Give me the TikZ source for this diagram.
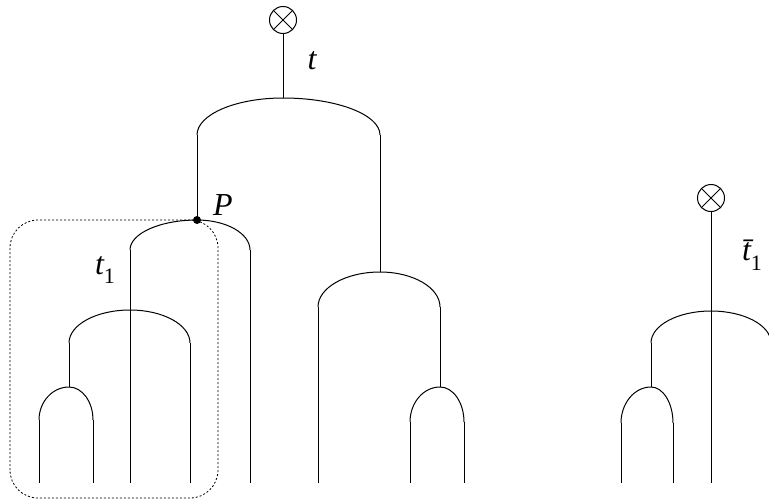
\documentclass[tikz,border=0pt]{standalone}
\usepackage{fontspec}
\setmainfont{Liberation Serif}
\tikzset{
  xcirc/.style={circle,draw,inner sep=0pt,minimum size=13.5pt,
    path picture={\draw (path picture bounding box.north west) -- (path picture bounding box.south east)
      (path picture bounding box.north east) -- (path picture bounding box.south west);}},
  pdot/.style={circle,fill,inner sep=0pt,minimum size=4pt},
  tlabel/.style={inner sep=0pt,font=\fontsize{16}{19}\selectfont\itshape},
  tbox/.style={dash pattern=on 1pt off 1pt,line width=0.4pt,rounded corners=14pt}
}
\begin{document}
\begin{tikzpicture}[x=0.5pt,y=0.5pt,line width=0.5pt]
  \useasboundingbox (0,0) rectangle (769,500);
  \foreach \x/\n in {39/l1,93/l2,130/l3,190/l4,250/l5,318/l6,410/l7,464/l8,621/l9,673/l10,711/l11}
    \coordinate (\n) at (\x,17);
  \node[xcirc] (top) at (283,480) {};
  \coordinate (a) at (283,402);
  \coordinate (al) at (197,365);
  \coordinate (ar) at (380,365);
  \coordinate (bl) at (130,250);
  \coordinate (br) at (250,250);
  \coordinate (c) at (130,190);
  \coordinate (cl) at (69,157);
  \coordinate (cr) at (190,157);
  \coordinate (d) at (69,113);
  \coordinate (dl) at (39,80);
  \coordinate (dr) at (93,80);
  \coordinate (e) at (380,228);
  \coordinate (el) at (318,193);
  \coordinate (er) at (440,193);
  \coordinate (f) at (440,113);
  \coordinate (fl) at (410,78);
  \coordinate (fr) at (464,78);
  \node[xcirc] (topbar) at (711,302) {};
  \coordinate (g) at (711,189);
  \coordinate (gl) at (651,157);
  \coordinate (h) at (651,113);
  \coordinate (hl) at (621,77);
  \coordinate (hr) at (673,77);
  \draw[tbox] (10,2) rectangle (218,280);
  \draw (top) -- (a);
  \draw (al) arc[start angle=180,end angle=90,x radius=86,y radius=37] arc[start angle=90,end angle=0,x radius=97,y radius=37];
  \draw (al) -- (197,280);
  \draw (ar) -- (e);
  \draw (bl) arc[start angle=180,end angle=90,x radius=67,y radius=30] arc[start angle=90,end angle=0,x radius=53,y radius=30];
  \node[pdot] (P) at (197,280) {};
  \draw (bl) -- (l3);
  \draw (br) -- (l5);
  \draw (cl) arc[start angle=180,end angle=90,x radius=61,y radius=33] arc[start angle=90,end angle=0,x radius=60,y radius=33];
  \draw (cl) -- (d);
  \draw (cr) -- (l4);
  \draw (dl) arc[start angle=180,end angle=90,x radius=30,y radius=33] arc[start angle=90,end angle=0,x radius=24,y radius=33];
  \draw (dl) -- (l1);
  \draw (dr) -- (l2);
  \draw (el) arc[start angle=180,end angle=90,x radius=62,y radius=35] arc[start angle=90,end angle=0,x radius=60,y radius=35];
  \draw (el) -- (l6);
  \draw (er) -- (f);
  \draw (fl) arc[start angle=180,end angle=90,x radius=30,y radius=35] arc[start angle=90,end angle=0,x radius=24,y radius=35];
  \draw (fl) -- (l7);
  \draw (fr) -- (l8);
  \draw (topbar) -- (l11);
  \draw (gl) arc[start angle=180,end angle=90,x radius=60,y radius=32] arc[start angle=90,end angle=0,x radius=60,y radius=32];
  \draw (gl) -- (h);
  \draw (hl) arc[start angle=180,end angle=90,x radius=30,y radius=36] arc[start angle=90,end angle=0,x radius=22,y radius=36];
  \draw (hl) -- (l9);
  \draw (hr) -- (l10);
  \node[tlabel] (tl) at (312,439) {t};
  \node[tlabel] (Pl) at (223,295) {P};
  \node[tlabel] (t1l) at (105,230) {t\raisebox{-0.3em}{\upshape\fontsize{11}{13}\selectfont 1}};
  \node[tlabel] (tbl) at (752,245) {\=t\raisebox{-0.3em}{\upshape\fontsize{11}{13}\selectfont 1}};
\end{tikzpicture}
\end{document}
